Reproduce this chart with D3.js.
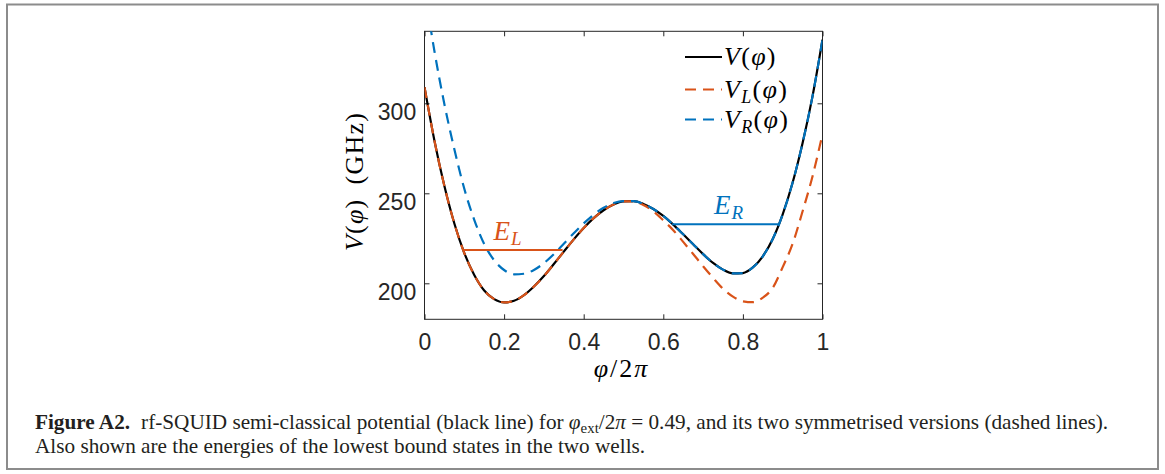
<!DOCTYPE html>
<html><head><meta charset="utf-8">
<script src="https://cdn.jsdelivr.net/npm/d3@7"></script>
<style>body{margin:0;background:#fff}svg{display:block}</style>
</head><body>
<svg id="c" width="1165" height="474"></svg>
<script>
// ---- data ----
const phi = [0,0.025,0.05,0.075,0.1,0.125,0.15,0.175,0.2,0.225,0.25,0.275,0.3,0.325,0.35,0.375,0.4,0.425,0.45,0.475,0.5,
             0.525,0.55,0.575,0.6,0.625,0.65,0.675,0.7,0.725,0.75,0.775,0.8,0.825,0.85,0.875,0.9,0.925,0.95,0.975,1];
const V  = [309.0,279.2,254.0,233.2,216.8,204.6,196.0,191.2,189.4,190.3,193.4,198.2,204.0,210.7,217.6,224.4,230.7,236.2,240.6,243.8,245.5,
            245.6,244.1,241.3,237.4,232.6,227.2,221.7,216.2,211.3,207.6,205.5,205.7,208.8,215.0,224.6,238.3,256.0,278.0,304.0,335.4];
const VL = [309.0,279.2,254.0,233.2,216.8,204.6,196.0,191.2,189.4,190.3,193.4,198.2,204.0,210.7,217.6,224.4,230.7,236.2,240.6,243.8,245.5,
            245.5,243.5,240.0,235.0,229.5,223.0,216.3,209.5,203.0,197.0,192.6,190.0,189.5,192.0,197.5,209.0,222.0,240.0,259.5,283.0];
const VR = [363.7,328.9,299.5,274.5,252.5,235.3,221.8,212.8,207.4,205.0,205.3,207.4,211.2,216.2,222.0,227.8,233.3,238.1,242.0,244.6,245.7,
            245.6,244.1,241.3,237.4,232.6,227.2,221.7,216.2,211.3,207.6,205.5,205.7,208.8,215.0,224.6,238.3,256.0,278.0,304.0,335.4];
const levelNames = ["L","R"];
const levelValues = [218.5, 232.8];
const levelFrom = [0.096, 0.622];
const levelTo = [0.347, 0.891];
const xTicks = [0,0.2,0.4,0.6,0.8,1];
const xTickLabels = ["0","0.2","0.4","0.6","0.8","1"];
const yTicks = [200,250,300];
const yTickLabels = ["200","250","300"];
const seriesNames = ["", "L", "R"];
const seriesColors = ["#000000","#D95319","#0072BD"];

// ---- drawing ----
const svg = d3.select("#c");
svg.append("rect").attr("width",1165).attr("height",474).attr("fill","#fff");
svg.append("rect").attr("x",7).attr("y",4.5).attr("width",1151).attr("height",464.5)
   .attr("fill","none").attr("stroke","#8c8c8c").attr("stroke-width",2);

const x = d3.scaleLinear().domain([0,1]).range([424.5,822.5]);
const y = d3.scaleLinear().domain([180,340]).range([319.3,31.3]);
const axCol = "#262626";
const tickFont = "'Liberation Sans', Arial, sans-serif";
const mathFont = "'Liberation Serif', 'Times New Roman', serif";

svg.append("defs").append("clipPath").attr("id","clip").append("rect")
   .attr("x",x(0)).attr("y",y(340)).attr("width",x(1)-x(0)).attr("height",y(180)-y(340));

function styleAxis(g){
  g.select(".domain").remove();
  g.selectAll("line").attr("stroke",axCol).attr("stroke-width",1);
  g.selectAll("text").attr("fill",axCol).style("font-family",tickFont).style("font-size","23px");
}
svg.append("g").attr("transform",`translate(0,${y(180)})`)
  .call(d3.axisBottom(x).tickValues(xTicks).tickFormat((d,i)=>xTickLabels[i]).tickSize(-5).tickSizeOuter(0).tickPadding(14.4))
  .call(styleAxis);
svg.append("g").attr("transform",`translate(0,${y(340)})`)
  .call(d3.axisTop(x).tickValues(xTicks).tickFormat("").tickSize(-5).tickSizeOuter(0))
  .call(styleAxis);
const gy = svg.append("g").attr("transform",`translate(${x(0)},0)`)
  .call(d3.axisLeft(y).tickValues(yTicks).tickFormat((d,i)=>yTickLabels[i]).tickSize(-5).tickSizeOuter(0).tickPadding(8.3))
  .call(styleAxis);
gy.selectAll("text").attr("dy",null).attr("transform","translate(0,15.8)");
svg.append("g").attr("transform",`translate(${x(1)},0)`)
  .call(d3.axisRight(y).tickValues(yTicks).tickFormat("").tickSize(-5).tickSizeOuter(0))
  .call(styleAxis);
svg.append("rect").attr("x",x(0)).attr("y",y(340)).attr("width",x(1)-x(0)).attr("height",y(180)-y(340))
   .attr("fill","none").attr("stroke",axCol).attr("stroke-width",1);

const line = d3.line().x(d=>x(d[0])).y(d=>y(d[1])).curve(d3.curveMonotoneX);
const plot = svg.append("g").attr("clip-path","url(#clip)");
const series = [V, VL, VR];
series.forEach((s,k)=>{
  plot.append("path").datum(phi.map((p,i)=>[p,s[i]]))
    .attr("d",line).attr("fill","none").attr("stroke",seriesColors[k]).attr("stroke-width",2.2)
    .attr("stroke-dasharray", k===0 ? null : "11,7");
});

// energy levels
levelValues.forEach((v,i)=>{
  const c = seriesColors[i+1];
  plot.append("line").attr("x1",x(levelFrom[i])).attr("x2",x(levelTo[i]))
    .attr("y1",y(v)).attr("y2",y(v)).attr("stroke",c).attr("stroke-width",2.2);
  const t = svg.append("text").attr("x",x((levelFrom[i]+levelTo[i])/2) - (i===0?5:-3)).attr("y",y(v)-10)
    .attr("text-anchor","middle").attr("fill",c).style("font-family",mathFont).style("font-size","27px");
  t.append("tspan").style("font-style","italic").text("E");
  t.append("tspan").style("font-style","italic").style("font-size","19px").attr("dx",1).attr("dy",5).text(levelNames[i]);
});

// legend
const legY = [57, 89.5, 119.5];
series.forEach((s,k)=>{
  svg.append("line").attr("x1",685).attr("x2",722).attr("y1",legY[k]).attr("y2",legY[k])
    .attr("stroke",seriesColors[k]).attr("stroke-width",2.2).attr("stroke-dasharray", k===0?null:"11,7");
  const t = svg.append("text").attr("x",724).attr("y",legY[k]+8).attr("fill","#000")
    .style("font-family",mathFont).style("font-size","26px").style("letter-spacing","1.3px");
  t.append("tspan").style("font-style","italic").text("V");
  if(seriesNames[k]){
    t.append("tspan").style("font-style","italic").style("font-size","18px").attr("dy",5).text(seriesNames[k]);
    t.append("tspan").attr("dy",-5).text("(");
  } else t.append("tspan").text("(");
  t.append("tspan").style("font-style","italic").text("\u03C6");
  t.append("tspan").text(")");
});

// axis labels
const yl = svg.append("text").attr("transform","translate(363,181.5) rotate(-90)").attr("text-anchor","middle")
  .attr("fill","#000").style("font-family",mathFont).style("font-size","26px").style("letter-spacing","1.2px");
yl.append("tspan").style("font-style","italic").text("V");
yl.append("tspan").text("(");
yl.append("tspan").style("font-style","italic").text("\u03C6");
yl.append("tspan").text(")\u2002(GHz)");
const xl = svg.append("text").attr("x",621.5).attr("y",377).attr("text-anchor","middle")
  .attr("fill","#000").style("font-family",mathFont).style("font-size","26px").style("letter-spacing","2px");
xl.append("tspan").style("font-style","italic").text("\u03C6");
xl.append("tspan").text("/2");
xl.append("tspan").style("font-style","italic").text("\u03C0");

// caption
const capCol = "#231f20";
const c1 = svg.append("text").attr("x",35).attr("y",429).attr("fill",capCol).style("font-family",mathFont).style("font-size","19px");
c1.append("tspan").style("font-weight","bold").text("Figure A2.");
c1.append("tspan").attr("dx",11).text("rf-SQUID semi-classical potential (black line) for ");
c1.append("tspan").style("font-style","italic").text("\u03C6");
c1.append("tspan").style("font-size","0.7em").attr("dy",4).text("ext");
c1.append("tspan").attr("dy",-4).text("/2");
c1.append("tspan").style("font-style","italic").text("\u03C0");
c1.append("tspan").text(" = 0.49, and its two symmetrised versions (dashed lines).");
const c2 = svg.append("text").attr("x",35).attr("y",453).attr("fill",capCol).style("font-family",mathFont).style("font-size","19px")
  .text("Also shown are the energies of the lowest bound states in the two wells.");
const len = c1.node().getComputedTextLength();
const fs = 19*1063/len;
c1.style("font-size",fs+"px"); c2.style("font-size",fs+"px");
</script>
</body></html>
